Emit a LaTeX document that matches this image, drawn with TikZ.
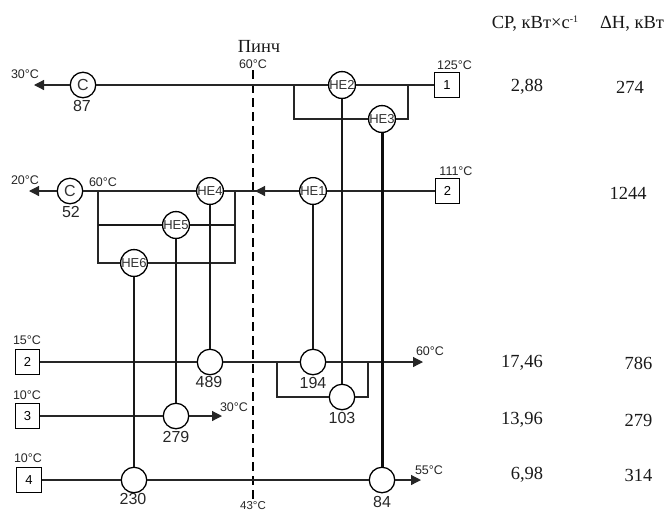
\documentclass[tikz,border=0pt]{standalone}
\usepackage{fontspec}
\setmainfont{Liberation Serif}
\setsansfont{Liberation Sans}
\usetikzlibrary{arrows.meta}
\tikzset{
 x=1pt,y=-1pt,
 he/.style={circle,draw=black,line width=1.3pt,fill=white,minimum size=25.5pt,inner sep=0pt,font=\sffamily\fontsize{13}{13}\selectfont,text=black!80},
 heC/.style={he,font=\sffamily\fontsize{16}{16}\selectfont},
 bx/.style={rectangle,draw=black,line width=1.1pt,fill=white,minimum size=24.5pt,inner sep=0pt,font=\sffamily\fontsize{13}{13}\selectfont},
 hot/.style={line width=1.2pt,black!85},
 cold/.style={line width=1.2pt,black!85},
 thk/.style={line width=1.7pt,black!90},
 drop/.style={line width=2pt,black!90},
 dropb/.style={line width=3pt,black!95},
 arr/.style={line width=1.2pt,black!85,-{Triangle[length=10pt,width=10pt]}},
 tlab/.style={inner sep=0pt,font=\sffamily\fontsize{12.5}{12.5}\selectfont,text=black!85},
 val/.style={inner sep=0pt,font=\sffamily\fontsize{16}{16}\selectfont,text=black!85},
 ser/.style={inner sep=0pt,font=\fontsize{18.5}{18.5}\selectfont,text=black!90},
 pinch/.style={line width=1.6pt,dash pattern=on 9pt off 5pt},
}
\begin{document}
\begin{tikzpicture}
\useasboundingbox (0,0) rectangle (668,512);
% pinch
\coordinate (pt) at (253,70);
\coordinate (pb) at (253,499);
\draw[pinch] (pt) -- (pb);
% nodes
\node[heC] (c1) at (83,85) {C};
\node[heC] (c2) at (70,191) {C};
\node[he] (he2) at (342,85) {HE2};
\node[he] (he3) at (382,119) {HE3};
\node[he] (he1) at (313,191) {HE1};
\node[he] (he4) at (210,191) {HE4};
\node[he] (he5) at (176,225) {HE5};
\node[he] (he6) at (134,263) {HE6};
\node[he] (h489) at (210,362) {};
\node[he] (h194) at (313,362) {};
\node[he] (h103) at (342,397) {};
\node[he] (h279) at (176,416) {};
\node[he] (h230) at (134,480) {};
\node[he] (h84) at (382,480) {};
\node[bx] (b1) at (447,85) {1};
\node[bx] (b2) at (447.5,191) {2};
\node[bx] (b2c) at (27.5,362) {2};
\node[bx] (b3) at (27.5,416) {3};
\node[bx] (b4) at (29,480) {4};
% free ends and branch points
\coordinate (e1) at (34,85);
\coordinate (e2) at (29,191);
\coordinate (ar) at (255,191);
\coordinate (e3) at (423,362);
\coordinate (e4) at (222,416);
\coordinate (e5) at (421,480);
\coordinate (s1l) at (294,85);
\coordinate (s1r) at (408,85);
\coordinate (s1lb) at (294,119);
\coordinate (s1rb) at (408,119);
\coordinate (s2l) at (98,191);
\coordinate (s2r) at (235,191);
\coordinate (s2lm) at (98,225);
\coordinate (s2rm) at (235,225);
\coordinate (s2lb) at (98,263);
\coordinate (s2rb) at (235,263);
\coordinate (s3l) at (277,362);
\coordinate (s3r) at (368,362);
\coordinate (s3lb) at (277,397);
\coordinate (s3rb) at (368,397);
% hot streams
\draw[arr] (c1) -- (e1);
\draw[hot] (he2) -- (c1);
\draw[hot] (b1) -- (he2);
\draw[hot] (s1r) -- (s1rb) -- (he3);
\draw[hot] (he3) -- (s1lb) -- (s1l);
\draw[arr] (c2) -- (e2);
\draw[hot] (he4) -- (c2);
\draw[hot] (he1) -- (he4);
\draw[arr] (he1) -- (ar);
\draw[hot] (b2) -- (he1);
\draw[hot] (s2r) -- (s2rm);
\draw[hot] (s2rm) -- (s2rb) -- (he6);
\draw[hot] (he6) -- (s2lb) -- (s2lm) -- (s2l);
\draw[thk] (s2rm) -- (he5) -- (s2lm);
% cold streams
\draw[cold] (b2c) -- (h489);
\draw[cold] (h489) -- (h194);
\draw[arr] (h194) -- (e3);
\draw[cold] (s3l) -- (s3lb) -- (h103);
\draw[cold] (h103) -- (s3rb) -- (s3r);
\draw[line width=1.3pt,black!85] (b3) -- (h279);
\draw[arr] (h279) -- (e4);
\draw[line width=1.3pt,black!85] (b4) -- (h230);
\draw[line width=1.3pt,black!85] (h230) -- (h84);
\draw[arr] (h84) -- (e5);
% matches
\draw[drop] (he1) -- (h194);
\draw[drop] (he2) -- (h103);
\draw[dropb] (he3) -- (h84);
\draw[drop] (he4) -- (h489);
\draw[drop] (he5) -- (h279);
\draw[drop] (he6) -- (h230);
% labels
\node[tlab] (t1) at (25,74) {30°C};
\node[tlab] (t2) at (25,180) {20°C};
\node[tlab] (t3) at (103,182) {60°C};
\node[tlab] (t4) at (253,64) {60°C};
\node[tlab] (t5) at (454.5,65) {125°C};
\node[tlab] (t6) at (456,171) {111°C};
\node[tlab] (t7) at (27,340) {15°C};
\node[tlab] (t8) at (27,395) {10°C};
\node[tlab] (t9) at (28,458) {10°C};
\node[tlab] (t10) at (234,407) {30°C};
\node[tlab] (t11) at (430,351) {60°C};
\node[tlab] (t12) at (429,470) {55°C};
\node[tlab,font=\sffamily\fontsize{11.5}{11.5}\selectfont] (t13) at (253,505.5) {43°C};
\node[val] (v1) at (82,106) {87};
\node[val] (v2) at (71,212) {52};
\node[val] (v3) at (209,382) {489};
\node[val] (v4) at (313,383) {194};
\node[val] (v5) at (342,418) {103};
\node[val] (v6) at (176,437) {279};
\node[val] (v7) at (133,499) {230};
\node[val] (v8) at (382,502) {84};
\node[ser] (pn) at (259,46) {Пинч};
\node[ser] (h1) at (535,24) {CP, кВт×с\raisebox{6pt}{\fontsize{10}{10}\selectfont -1}};
\node[ser] (h2) at (632,24) {ΔH, кВт};
\node[ser] (d1) at (527,87) {2,88};
\node[ser] (d2) at (630,87) {274};
\node[ser] (d3) at (628,193) {1244};
\node[ser] (d4) at (522,363) {17,46};
\node[ser] (d5) at (638.5,363) {786};
\node[ser] (d6) at (522,420) {13,96};
\node[ser] (d7) at (638.5,420) {279};
\node[ser] (d8) at (527,475) {6,98};
\node[ser] (d9) at (638.5,475) {314};
\end{tikzpicture}
\end{document}
